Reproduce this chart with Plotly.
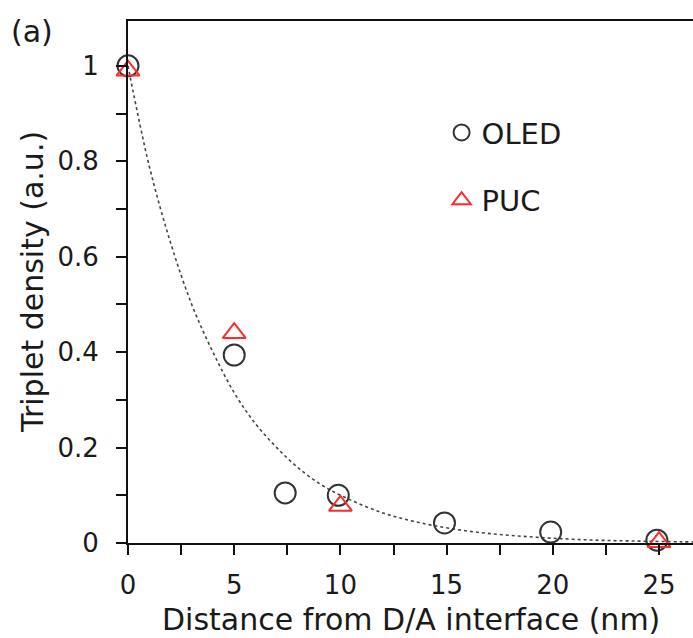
import plotly.graph_objects as go

# Data
oled_x = [0, 5, 7.4, 9.9, 14.9, 19.9, 24.9]
oled_y = [1.0, 0.394, 0.105, 0.10, 0.042, 0.023, 0.006]
puc_x = [0, 5, 10, 25]
puc_y = [0.99, 0.44, 0.078, 0.002]
fit_x = [0, 1, 2, 3, 4, 5, 6, 7, 8, 9, 10, 12, 14, 16, 18, 20, 22, 24, 26, 27]
fit_y = [1.0, 0.79, 0.63, 0.50, 0.40, 0.315, 0.25, 0.20, 0.158, 0.125, 0.10,
         0.063, 0.040, 0.025, 0.016, 0.010, 0.006, 0.004, 0.0025, 0.002]
x_tickvals = [0, 5, 10, 15, 20, 25]
x_ticktext = ["0", "5", "10", "15", "20", "25"]
y_tickvals = [0, 0.2, 0.4, 0.6, 0.8, 1.0]
y_ticktext = ["0", "0.2", "0.4", "0.6", "0.8", "1"]

FONT = "DejaVu Sans"
TXT = "#1a1a1a"

fig = go.Figure()
fig.add_trace(go.Scatter(x=fit_x, y=fit_y, mode="lines", showlegend=False,
                         line=dict(color="#444", width=1.6, dash="dot", shape="spline"),
                         hoverinfo="skip"))
fig.add_trace(go.Scatter(x=oled_x, y=oled_y, mode="markers", name="OLED", legendgroup="a",
                         marker=dict(symbol="circle-open", size=21, color="#333",
                                     line=dict(width=2, color="#333")),
                         cliponaxis=False))
fig.add_trace(go.Scatter(x=puc_x, y=puc_y, mode="markers", name="PUC", legendgroup="b",
                         marker=dict(symbol="triangle-up-open", size=20, color="#ff2a2a",
                                     line=dict(width=2, color="#ff2a2a")),
                         cliponaxis=False))

axis_common = dict(showgrid=False, zeroline=False, showline=True, linecolor="#111",
                   linewidth=2, ticks="outside", ticklen=10, tickwidth=2, tickcolor="#111",
                   tickfont=dict(family=FONT, size=26, color=TXT))

fig.update_xaxes(range=[0, 26.6], tickvals=x_tickvals, ticktext=x_ticktext, mirror=True,
                 minor=dict(dtick=2.5, tick0=0, ticks="outside", ticklen=10, tickwidth=2,
                            tickcolor="#111", showgrid=False),
                 ticklabelstandoff=8, **axis_common)
fig.update_yaxes(range=[0, 1.094], tickvals=y_tickvals, ticktext=y_ticktext, mirror=False,
                 minor=dict(dtick=0.1, tick0=0, ticks="outside", ticklen=10, tickwidth=2,
                            tickcolor="#111", showgrid=False),
                 ticklabelstandoff=12, **axis_common)

fig.update_layout(
    width=693, height=638,
    margin=dict(l=128, r=0, t=21, b=95),
    plot_bgcolor="white", paper_bgcolor="white",
    font=dict(family=FONT, size=26, color=TXT),
    legend=dict(x=0.555, y=0.835, xanchor="left", yanchor="top", bgcolor="rgba(0,0,0,0)",
                font=dict(family=FONT, size=29, color=TXT), tracegroupgap=27,
                itemsizing="trace"),
    annotations=[
        dict(text="Distance from D/A interface (nm)", xref="paper", yref="paper",
             x=0.5, y=0, yshift=-76, xanchor="center", yanchor="middle", showarrow=False,
             font=dict(family=FONT, size=30, color=TXT)),
        dict(text="Triplet density (a.u.)", xref="paper", yref="paper",
             x=0, xshift=-96, y=0.5, textangle=-90, xanchor="center", yanchor="middle",
             showarrow=False, font=dict(family=FONT, size=30, color=TXT)),
        dict(text="(a)", xref="paper", yref="paper", x=0, xshift=-119, y=0.979,
             xanchor="left", yanchor="middle", showarrow=False,
             font=dict(family=FONT, size=30, color=TXT)),
    ],
)

fig.write_html("out.html")
